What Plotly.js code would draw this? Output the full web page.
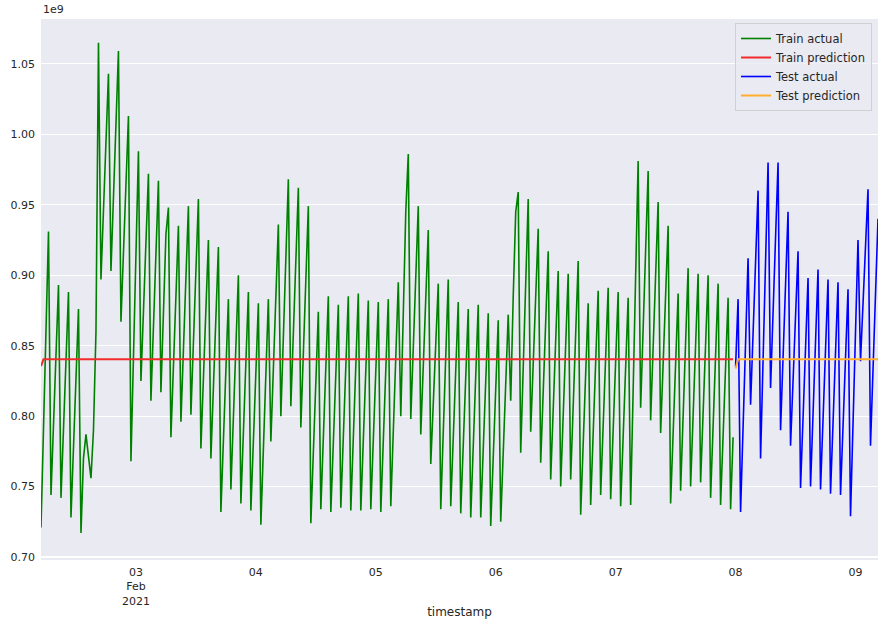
<!DOCTYPE html>
<html>
<head>
<meta charset="utf-8">
<script src="https://cdn.plot.ly/plotly-3.0.1.min.js"></script>
<style>
  body { margin: 0; background: #fff; }
  #plot { width: 885px; height: 626px; }
</style>
</head>
<body>
<div id="plot"></div>
<script>
// values are in units of 1e9 (the axis shows a "1e9" offset)
// half-hourly series: a peak every 2h (at hh:30), the trough 30 min later,
// then a near-straight climb to the next peak
const trainFirstPeak = '2021-02-02 06:30';
const trainPeaks = [
  0.931, 0.893, 0.888, 0.876, 0.772, 1.065, 1.043, 1.059, 1.013, 0.988,
  0.972, 0.967, 0.948, 0.935, 0.949, 0.954, 0.925, 0.920, 0.883, 0.900,
  0.888, 0.880, 0.883, 0.936, 0.968, 0.962, 0.949, 0.874, 0.885, 0.879,
  0.885, 0.887, 0.882, 0.881, 0.883, 0.895, 0.986, 0.949, 0.932, 0.894,
  0.897, 0.881, 0.876, 0.879, 0.873, 0.868, 0.872, 0.959, 0.954, 0.933,
  0.917, 0.903, 0.901, 0.910, 0.880, 0.889, 0.891, 0.888, 0.884, 0.981,
  0.974, 0.952, 0.935, 0.887, 0.905, 0.901, 0.900, 0.894, 0.884
];
const trainTroughs = [
  0.744, 0.742, 0.728, 0.717, 0.756, 0.897, 0.903, 0.867, 0.768, 0.825,
  0.811, 0.817, 0.785, 0.796, 0.801, 0.777, 0.770, 0.732, 0.748, 0.738,
  0.733, 0.723, 0.782, 0.800, 0.807, 0.792, 0.724, 0.734, 0.732, 0.735,
  0.733, 0.733, 0.734, 0.732, 0.736, 0.800, 0.798, 0.787, 0.766, 0.734,
  0.736, 0.731, 0.728, 0.728, 0.722, 0.725, 0.811, 0.774, 0.789, 0.767,
  0.755, 0.750, 0.755, 0.730, 0.737, 0.744, 0.741, 0.736, 0.737, 0.806,
  0.797, 0.788, 0.738, 0.747, 0.750, 0.753, 0.742, 0.737, 0.734
];
// points off the straight climbs (start, kinks, end of train)
const trainExtraTimes = [
  '2021-02-02 05:00', '2021-02-02 13:30', '2021-02-02 14:00', '2021-02-02 15:30',
  '2021-02-02 16:00', '2021-02-03 06:00', '2021-02-05 06:00', '2021-02-06 03:30',
  '2021-02-06 04:00', '2021-02-07 23:30'
];
const trainExtraValues = [0.721, 0.770, 0.787, 0.790, 0.860, 0.929, 0.945, 0.885, 0.945, 0.785];

const testFirstPeak = '2021-02-08 00:30';
const testPeaks = [0.883, 0.912, 0.960, 0.980, 0.980, 0.945, 0.917, 0.898, 0.904, 0.897, 0.895, 0.890, 0.925, 0.961, 0.940];
const testTroughs = [0.732, 0.808, 0.770, 0.820, 0.790, 0.779, 0.749, 0.750, 0.748, 0.745, 0.744, 0.729, 0.839, 0.779];
const testExtraTimes = ['2021-02-08 00:00'];
const testExtraValues = [0.835];

const trainPredTimes = ['2021-02-02 05:00', '2021-02-02 05:30', '2021-02-07 23:30'];
const trainPredValues = [0.8355, 0.8403, 0.8403];
const testPredTimes = ['2021-02-08 00:00', '2021-02-08 00:30', '2021-02-09 04:30'];
const testPredValues = [0.8337, 0.8403, 0.8403];

const dayTicks = ['2021-02-03', '2021-02-04', '2021-02-05', '2021-02-06', '2021-02-07', '2021-02-08', '2021-02-09'];
const dayLabels = ['03<br>Feb<br>2021', '04', '05', '06', '07', '08', '09'];
const yTicks = [0.70, 0.75, 0.80, 0.85, 0.90, 0.95, 1.00, 1.05];

const HOUR = 3600 * 1000;
const toMs = s => Date.parse(s.replace(' ', 'T') + ':00Z');
const toStr = ms => new Date(ms).toISOString().slice(0, 16).replace('T', ' ');

function buildSeries(firstPeak, peaks, troughs, extraTimes, extraValues) {
  const t0 = toMs(firstPeak);
  const pts = [];
  peaks.forEach((v, k) => pts.push([t0 + 2 * HOUR * k, v]));
  troughs.forEach((v, k) => pts.push([t0 + 2 * HOUR * k + HOUR / 2, v]));
  extraTimes.forEach((s, i) => pts.push([toMs(s), extraValues[i]]));
  pts.sort((a, b) => a[0] - b[0]);
  return { x: pts.map(p => toStr(p[0])), y: pts.map(p => p[1]) };
}

const train = buildSeries(trainFirstPeak, trainPeaks, trainTroughs, trainExtraTimes, trainExtraValues);
const test = buildSeries(testFirstPeak, testPeaks, testTroughs, testExtraTimes, testExtraValues);

const font = 'DejaVu Sans, sans-serif';
const textColor = '#262626';

const data = [
  { x: train.x, y: train.y, name: 'Train actual', type: 'scatter', mode: 'lines', line: { color: '#008000', width: 1.6 } },
  { x: trainPredTimes, y: trainPredValues, name: 'Train prediction', type: 'scatter', mode: 'lines', line: { color: '#f22b2b', width: 2 } },
  { x: test.x, y: test.y, name: 'Test actual', type: 'scatter', mode: 'lines', line: { color: '#0000ff', width: 1.6 } },
  { x: testPredTimes, y: testPredValues, name: 'Test prediction', type: 'scatter', mode: 'lines', line: { color: '#ffad2b', width: 2 } }
];

const layout = {
  width: 885,
  height: 626,
  margin: { l: 41, r: 7, t: 19, b: 66 },
  paper_bgcolor: '#ffffff',
  plot_bgcolor: '#EAEAF2',
  font: { family: font, size: 11, color: textColor },
  showlegend: true,
  legend: {
    x: 0.9928, xanchor: 'right', y: 0.9926, yanchor: 'top',
    bgcolor: 'rgba(234,234,242,0.8)', bordercolor: '#d0d0d0', borderwidth: 1,
    font: { family: font, size: 11.5, color: textColor },
    itemwidth: 30, tracegroupgap: 0
  },
  xaxis: {
    type: 'date',
    range: ['2021-02-02 05:00', '2021-02-09 04:30'],
    tickmode: 'array', tickvals: dayTicks, ticktext: dayLabels,
    showgrid: false, zeroline: false, showline: false, ticks: '',
    ticklabelstandoff: 4,
    tickfont: { family: font, size: 11, color: textColor },
    title: { text: 'timestamp', font: { family: font, size: 12, color: textColor }, standoff: 1 },
    automargin: false
  },
  yaxis: {
    range: [0.6979, 1.0818],
    tickmode: 'array', tickvals: yTicks, ticktext: yTicks.map(v => v.toFixed(2)),
    showgrid: true, gridcolor: '#ffffff', gridwidth: 1.1,
    zeroline: false, showline: false, ticks: '',
    ticklabelstandoff: 5,
    tickfont: { family: font, size: 11, color: textColor },
    automargin: false
  },
  annotations: [
    { text: '1e9', xref: 'paper', yref: 'paper', x: 0, y: 1, xanchor: 'left', yanchor: 'bottom',
      yshift: 1, showarrow: false, font: { family: font, size: 11, color: textColor } }
  ]
};

Plotly.newPlot('plot', data, layout, { displayModeBar: false, staticPlot: true });
</script>
</body>
</html>
